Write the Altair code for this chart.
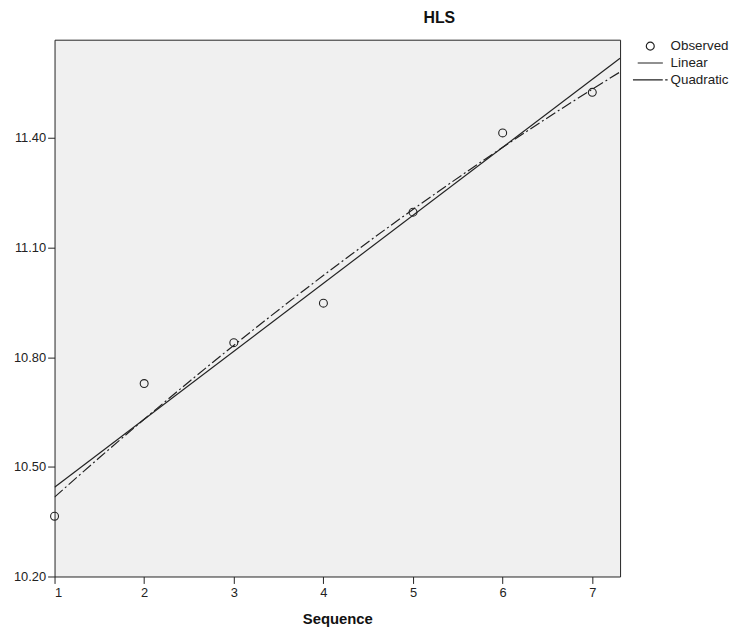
import altair as alt
import pandas as pd

# --- data ---
seq = [1, 2, 3, 4, 5, 6, 7]
hls = [10.365, 10.728, 10.840, 10.948, 11.197, 11.414, 11.525]

series = ["Observed", "Linear", "Quadratic"]
legend_shapes = ["circle", "M-1,0H1", "M-1,0H0.72M0.86,0H1"]
legend_sizes = [64, 1225, 1225]

x_ticks = [1, 2, 3, 4, 5, 6, 7]
y_ticks = [10.20, 10.50, 10.80, 11.10, 11.40]
x_domain = [1, 7.31]
y_domain = [10.20, 11.669]

df = pd.DataFrame({"Sequence": seq, "HLS": hls, "series": ["Observed"] * len(seq)})

FONT = "Liberation Sans"
INK = "#222222"

x = alt.X(
    "Sequence:Q",
    scale=alt.Scale(domain=x_domain, nice=False, zero=False),
    axis=alt.Axis(values=x_ticks, format="d", title="Sequence",
                  labelPadding=3, titlePadding=12),
)
y = alt.Y(
    "HLS:Q",
    scale=alt.Scale(domain=y_domain, nice=False, zero=False),
    axis=alt.Axis(values=y_ticks, format=".2f", title=None, labelPadding=2),
)

leg = alt.Legend(
    title=None, orient="none", legendX=583, legendY=-2,
    labelFont=FONT, labelFontSize=13.5, labelColor=INK, labelOffset=2,
    symbolStrokeColor=INK, symbolStrokeWidth=1.2, symbolFillColor="transparent",
    padding=0, rowPadding=0, clipHeight=17,
)

base = alt.Chart(df)

lin = base.transform_regression(
    "Sequence", "HLS", method="linear", extent=x_domain
).mark_line(color=INK, strokeWidth=1.2, clip=True).encode(x=x, y=y)

quad = base.transform_regression(
    "Sequence", "HLS", method="poly", order=2, extent=x_domain
).mark_line(color=INK, strokeWidth=1.2, strokeDash=[11, 3, 2, 3], clip=True).encode(x=x, y=y)

points = base.mark_point(filled=False, color=INK, strokeWidth=1.1, opacity=1).encode(
    x=x,
    y=y,
    shape=alt.Shape("series:O", scale=alt.Scale(domain=series, range=legend_shapes), legend=leg),
    size=alt.Size("series:O", scale=alt.Scale(domain=series, range=legend_sizes), legend=leg),
)

chart = alt.layer(lin, quad, points).properties(
    width=571,
    height=542,
    autosize="none",
    padding={"left": 47, "top": 29, "right": 112, "bottom": 50},
    title=alt.TitleParams("HLS", font=FONT, fontSize=16, fontWeight="bold",
                          color="#111111", anchor="middle", dx=103, offset=12),
).configure_view(
    fill="#f0f0f0", stroke=INK, strokeWidth=1
).configure_axis(
    domain=False, grid=False, ticks=True, tickColor=INK, tickSize=7, tickWidth=1,
    labelFont=FONT, labelFontSize=13, labelColor=INK,
    titleFont=FONT, titleFontSize=15, titleFontWeight="bold", titleColor="#111111",
)

chart.save("out.html", embed_options={"renderer": "svg", "actions": False})
